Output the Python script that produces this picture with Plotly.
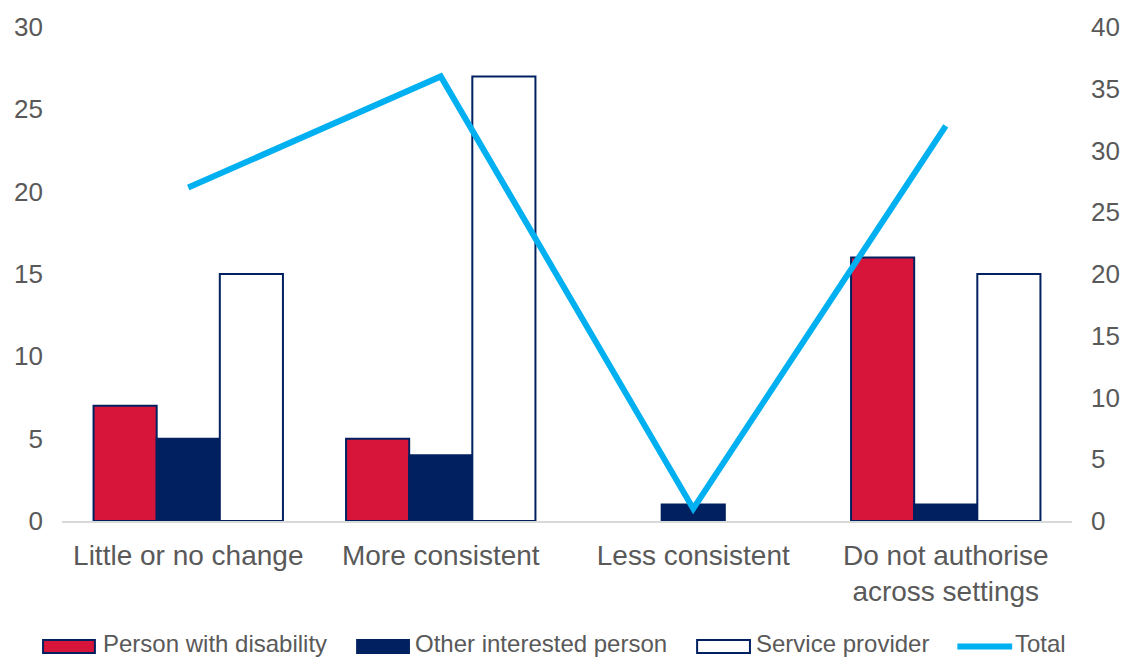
import plotly.graph_objects as go

# Survey responses by respondent group
categories = ["Little or no change", "More consistent", "Less consistent",
              "Do not authorise<br>across settings"]
person_with_disability = [7, 5, 0, 16]
other_interested_person = [5, 4, 1, 1]
service_provider = [15, 27, 0, 15]
total = [27, 36, 1, 32]

series_names = ["Person with disability", "Other interested person",
                "Service provider", "Total"]

RED = "#D7153A"
NAVY = "#002060"
CYAN = "#00B0F0"
GREY_TEXT = "#595959"
FONT = "Liberation Sans, Arial, sans-serif"

W, H = 1132, 657
L, R, T, B = 62, 57, 27, 136
PW, PH = W - L - R, H - T - B


def px_x(x):
    return (x - L) / PW


def px_y(y):
    return (H - B - y) / PH


def outline_widths(values, width=2):
    # no outline on empty bars, so zero counts leave no stray line on the axis
    return [width if v else 0 for v in values]


fig = go.Figure()
fig.add_trace(go.Bar(x=categories, y=person_with_disability, name=series_names[0],
                     marker=dict(color=RED, line=dict(
                         color=NAVY, width=outline_widths(person_with_disability)))))
fig.add_trace(go.Bar(x=categories, y=other_interested_person, name=series_names[1],
                     marker=dict(color=NAVY, line=dict(
                         color=NAVY, width=outline_widths(other_interested_person)))))
fig.add_trace(go.Bar(x=categories, y=service_provider, name=series_names[2],
                     marker=dict(color="white", line=dict(
                         color=NAVY, width=outline_widths(service_provider)))))
fig.add_trace(go.Scatter(x=categories, y=total, name=series_names[3], yaxis="y2",
                         mode="lines", line=dict(color=CYAN, width=6)))

# Legend drawn by hand so the swatches can be wide rectangles
legend_items = [
    (43, 95, 101, "rect", RED),
    (358, 410, 414, "rect", NAVY),
    (699, 752, 756, "rect", "white"),
    (960, 1015, 1016, "line", CYAN),
]
shapes = []
annotations = []
for (x0, x1, tx, kind, col), name in zip(legend_items, series_names):
    if kind == "rect":
        shapes.append(dict(type="rect", xref="paper", yref="paper",
                           x0=px_x(x0), x1=px_x(x1), y0=px_y(640), y1=px_y(653),
                           fillcolor=col, line=dict(color=NAVY, width=2)))
    else:
        shapes.append(dict(type="line", xref="paper", yref="paper",
                           x0=px_x(x0), x1=px_x(x1), y0=px_y(646.5), y1=px_y(646.5),
                           line=dict(color=col, width=6)))
    annotations.append(dict(text=name, xref="paper", yref="paper",
                            x=px_x(tx), y=px_y(643), xanchor="left", yanchor="middle",
                            showarrow=False,
                            font=dict(family=FONT, size=24, color=GREY_TEXT)))

fig.update_layout(
    width=W, height=H,
    margin=dict(l=L, r=R, t=T, b=B, pad=0),
    paper_bgcolor="white", plot_bgcolor="white",
    barmode="group", bargap=0.25, bargroupgap=0,
    showlegend=False,
    font=dict(family=FONT, color=GREY_TEXT),
    xaxis=dict(showgrid=False, showline=True, linecolor="#D9D9D9", linewidth=2,
               ticks="", tickfont=dict(size=28, color=GREY_TEXT),
               ticklabelstandoff=8),
    yaxis=dict(range=[0, 30], dtick=5, showgrid=False, zeroline=False,
               showline=False, ticks="", tickfont=dict(size=26, color=GREY_TEXT),
               ticklabelstandoff=18),
    yaxis2=dict(range=[0, 40], dtick=5, overlaying="y", side="right",
                showgrid=False, zeroline=False, showline=False, ticks="",
                tickfont=dict(size=26, color=GREY_TEXT), ticklabelstandoff=18),
    shapes=shapes,
    annotations=annotations,
)

fig.write_html("out.html", config={"displayModeBar": False})
